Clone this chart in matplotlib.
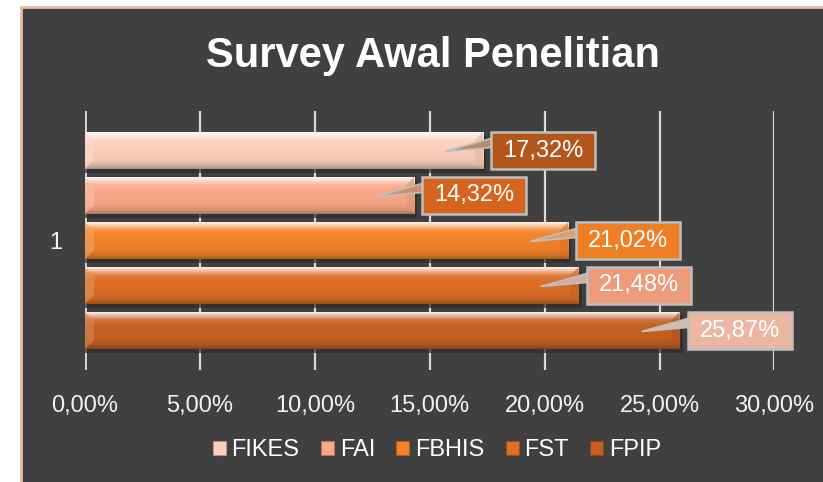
import numpy as np
import matplotlib
matplotlib.use("Agg")
import matplotlib.pyplot as plt
from matplotlib.patches import Rectangle, Polygon, Patch
from matplotlib.colors import to_rgb

# ---- data ----
title = "Survey Awal Penelitian"
category = ["1"]
series = ["FIKES", "FAI", "FBHIS", "FST", "FPIP"]
values = [17.32, 14.32, 21.02, 21.48, 25.87]
xticks = [0, 5, 10, 15, 20, 25, 30]
xtick_labels = ["0,00%", "5,00%", "10,00%", "15,00%", "20,00%", "25,00%", "30,00%"]

# ---- style ----
bar_colors = ["#FDD0BC", "#F9A988", "#F5832B", "#DE6F27", "#C76022"]
label_colors = ["#B3561B", "#D5641F", "#EE7F25", "#EC9B7B", "#EBB7A3"]
bg = "#404040"
grid_c = "#D9D9D9"
W, H = 823, 482

plt.rcParams['font.family'] = ['Liberation Sans', 'DejaVu Sans']
fig = plt.figure(figsize=(W / 100, H / 100), dpi=100, facecolor="white")

# chart area background with salmon border
fig.patches.append(Rectangle((21 / W, -0.05), 1.1, (H - 7) / H + 0.05, transform=fig.transFigure,
                             facecolor=bg, edgecolor="#F2B7A0", linewidth=2, zorder=-10))

ax = fig.add_axes([85 / W, 112 / H, 689.5 / W, 259 / H])
ax.set_zorder(1)
ax.patch.set_alpha(0)
ax.set_xlim(0, 30)
ax.set_ylim(0, 1)
for s in ax.spines.values():
    s.set_visible(False)
ax.axvline(0, color=grid_c, lw=2, zorder=1)
for t in xticks[1:]:
    ax.axvline(t, color=grid_c, lw=1.6, zorder=1)

ax.set_xticks(xticks)
ax.set_xticklabels(xtick_labels, color="#F2F2F2", fontsize=17)
ax.set_yticks([0.5])
ax.set_yticklabels(category, color="#F2F2F2", fontsize=17)
ax.tick_params(axis="x", length=0, pad=18)
ax.tick_params(axis="y", length=0, pad=16)

dx = 30 / 689.5   # data units per pixel (x)
dy = 1 / 259      # data units per pixel (y)
pitch = 45 * dy
bh = 37 * dy


def mix(c, t, a):
    c = np.array(to_rgb(c)); t = np.array(to_rgb(t))
    return c * (1 - a) + t * a


def gradient(c):
    stops = [(0.0, mix(c, "white", 0.9)), (0.08, mix(c, "white", 0.6)), (0.22, mix(c, "white", 0.12)),
             (0.35, mix(c, "white", 0.0)), (0.75, mix(c, "black", 0.04)), (0.9, mix(c, "black", 0.14)),
             (1.0, mix(c, "black", 0.3))]
    n = 60
    pos = np.linspace(0, 1, n)
    arr = np.zeros((n, 2, 3))
    for ch in range(3):
        col = np.interp(pos, [s[0] for s in stops], [s[1][ch] for s in stops])
        arr[:, :, ch] = col[:, None]
    return arr


for i, (name, v) in enumerate(zip(series, values)):
    yc = 0.5 + (2 - i) * pitch
    # shadow
    ax.add_patch(Rectangle((0, yc - bh / 2 - 4 * dy), v + 3 * dx, bh, facecolor="#2B2B2B",
                           edgecolor="none", alpha=0.7, zorder=2))
    bar = ax.barh(yc, v, height=bh, color=bar_colors[i], edgecolor="none", zorder=3)[0]
    im = ax.imshow(gradient(bar_colors[i]), extent=[0, v, yc - bh / 2, yc + bh / 2],
                   aspect="auto", origin="upper", zorder=4, interpolation="bilinear")
    im.set_clip_path(bar)
    # right bevel edge
    ax.add_patch(Polygon([[v - 8 * dx, yc + bh / 2 - 8 * dy], [v, yc + bh / 2],
                          [v, yc - bh / 2], [v - 8 * dx, yc - bh / 2 + 8 * dy]],
                         closed=True, facecolor=mix(bar_colors[i], "black", 0.12), edgecolor="none",
                         alpha=0.6, zorder=5))
    # left bevel
    ax.add_patch(Polygon([[0, yc + bh / 2], [9 * dx, yc + bh / 2 - 9 * dy],
                          [9 * dx, yc - bh / 2 + 9 * dy], [0, yc - bh / 2]],
                         closed=True, facecolor=mix(bar_colors[i], "white", 0.25), edgecolor="none",
                         alpha=0.6, zorder=5))

    # callout label
    bx0 = v + 8 * dx
    bw = 104 * dx
    ax.add_patch(Polygon([[bx0, yc + 12 * dy], [v - 38 * dx, yc - 1 * dy], [bx0, yc + 3 * dy]],
                         closed=True, facecolor=mix(label_colors[i], "#BFBFBF", 0.5),
                         edgecolor="#BFBFBF", lw=1.2, zorder=6, clip_on=False))
    ax.add_patch(Rectangle((bx0, yc - bh / 2), bw, bh, facecolor=label_colors[i],
                           edgecolor="#BFBFBF", lw=1.8, zorder=7, clip_on=False))
    ax.text(bx0 + bw / 2, yc, f"{v:.2f}".replace(".", ",") + "%", color="white", fontsize=17,
            ha="center", va="center", zorder=8, clip_on=False)

fig.text(0.526, 1 - 56 / H, title, color="white", fontsize=30, fontweight="bold",
         ha="center", va="center")

handles = [Patch(facecolor=c, edgecolor=mix(c, "black", 0.3), lw=0.8) for c in bar_colors]
leg = fig.legend(handles, series, loc="center", bbox_to_anchor=(437 / W, 1 - 450 / H), ncol=5,
                 frameon=False, fontsize=17, handlelength=0.55, handleheight=0.55,
                 handletextpad=0.25, columnspacing=0.9, labelcolor="white")

fig.savefig("out.png", dpi=100, facecolor="white")
